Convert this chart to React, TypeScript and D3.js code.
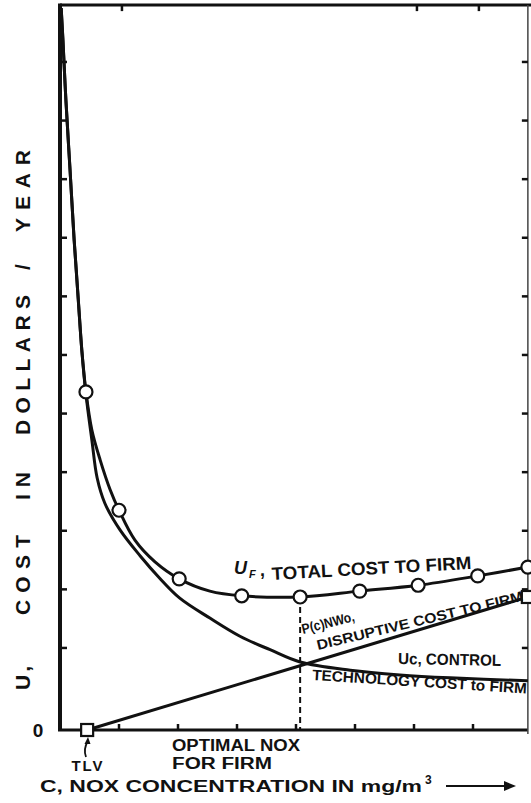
import React from 'react';
import * as d3 from 'd3';

const W = 531;
const H = 803;

// axis ticks (C and U in chart units)
const xTicks = [1, 2, 3, 4, 5, 6, 7];
const yTicks = [1.4, 2.4, 3.4, 4.4, 5.4, 6.4, 7.4, 8.4, 9.4, 10.4, 11.4];
const topTicks = [1.05, 6.05, 7.1];
const xMax = 7.93;
const yMax = 12.37;

// U_F, total cost to firm
const ufC = [0.02, 0.05, 0.10, 0.17, 0.24, 0.31, 0.37, 0.44, 0.54, 0.68, 0.85, 1.00, 1.27, 1.61, 2.02, 2.54, 3.08, 4.07, 5.08, 6.07, 7.08, 7.93];
const ufU = [12.32, 11.77, 10.75, 9.56, 8.36, 7.34, 6.48, 5.77, 5.12, 4.61, 4.10, 3.75, 3.24, 2.87, 2.58, 2.37, 2.29, 2.27, 2.37, 2.47, 2.63, 2.78];
const ufMarkC = [0.44, 1.00, 2.02, 3.08, 4.07, 5.08, 6.07, 7.08, 7.93];
const ufMarkU = [5.77, 3.75, 2.58, 2.29, 2.27, 2.37, 2.47, 2.63, 2.78];

// Uc, control technology cost to firm
const ucC = [0.02, 0.05, 0.10, 0.17, 0.24, 0.31, 0.37, 0.44, 0.54, 0.63, 0.76, 1.02, 1.36, 1.69, 2.03, 2.54, 3.05, 3.56, 4.07, 4.92, 5.76, 6.61, 7.93];
const ucU = [12.32, 11.77, 10.75, 9.56, 8.36, 7.34, 6.48, 5.73, 4.95, 4.30, 3.87, 3.41, 2.97, 2.59, 2.25, 1.91, 1.60, 1.37, 1.16, 1.02, 0.94, 0.89, 0.84];

// P(c)NWo, disruptive cost to firm
const pC = [0.46, 7.93];
const pU = [0, 2.27];

const optimalC = 4.07;

// y-axis title words
const yTitleWords = ['U,', 'COST', 'IN', 'DOLLARS', '/', 'YEAR'];

const FONT = "'Liberation Sans', Arial, sans-serif";

export default function App() {
  const x = d3.scaleLinear().domain([0, 8]).range([60, 532]);
  const y = d3.scaleLinear().domain([0, 12.4]).range([730, 3.36]);
  const curve = d3
    .line<[number, number]>()
    .x((d) => x(d[0]))
    .y((d) => y(d[1]))
    .curve(d3.curveCatmullRom.alpha(0.5));
  const straight = d3
    .line<[number, number]>()
    .x((d) => x(d[0]))
    .y((d) => y(d[1]));

  const uf = ufC.map((c, i) => [c, ufU[i]] as [number, number]);
  const uc = ucC.map((c, i) => [c, ucU[i]] as [number, number]);
  const pl = pC.map((c, i) => [c, pU[i]] as [number, number]);

  const x0 = x(0);
  const y0 = y(0);
  const xR = x(xMax);
  const yT = y(yMax);
  const ink = '#111';

  // word offsets along the rotated y title (layout)
  const wordPos = [0, 75, 190, 255, 420, 458];
  const wordLen = [24, 80, 28, 140, 11, 82];

  return (
    <svg
      width={W}
      height={H}
      style={{ position: 'absolute', left: 0, top: 0, background: '#fff' }}
      fontFamily={FONT}
      fontWeight="bold"
    >
      <rect x={0} y={0} width={W} height={H} fill="#fff" />
      {/* frame */}
      <line x1={x0} y1={yT} x2={W} y2={yT} stroke={ink} strokeWidth={3} />
      <line x1={x0} y1={yT - 1.5} x2={x0} y2={y0} stroke={ink} strokeWidth={4} />
      <line x1={x0 - 2} y1={y0} x2={xR} y2={y0} stroke={ink} strokeWidth={3} />
      <line x1={xR} y1={yT} x2={xR} y2={y0 + 4} stroke="#444" strokeWidth={1.5} />

      {/* ticks */}
      {xTicks.map((t) => (
        <line key={'bx' + t} x1={x(t)} y1={y0} x2={x(t)} y2={y0 - 6} stroke={ink} strokeWidth={2.5} />
      ))}
      {topTicks.map((t) => (
        <line key={'tx' + t} x1={x(t)} y1={yT} x2={x(t)} y2={yT + 6} stroke={ink} strokeWidth={2.5} />
      ))}
      {yTicks.map((t) => (
        <line key={'ly' + t} x1={x0} y1={y(t)} x2={x0 + 7} y2={y(t)} stroke={ink} strokeWidth={2.5} />
      ))}
      {yTicks.map((t) => (
        <line key={'ry' + t} x1={xR} y1={y(t)} x2={xR - 6} y2={y(t)} stroke={ink} strokeWidth={2.5} />
      ))}

      {/* curves */}
      <path d={curve(uc) || ''} fill="none" stroke={ink} strokeWidth={3} />
      <path d={curve(uf) || ''} fill="none" stroke={ink} strokeWidth={3} />
      <path d={straight(pl) || ''} fill="none" stroke={ink} strokeWidth={3} />

      {/* optimal dashed line */}
      <line
        x1={x(optimalC)}
        y1={y(d3.min(ufU) as number)}
        x2={x(optimalC)}
        y2={y0}
        stroke={ink}
        strokeWidth={2}
        strokeDasharray="6,4"
      />

      {/* markers */}
      {ufMarkC.map((c, i) => (
        <circle key={'m' + i} cx={x(c)} cy={y(ufMarkU[i])} r={6.5} fill="#fff" stroke={ink} strokeWidth={2.2} />
      ))}
      {pl.map((d, i) => (
        <rect key={'s' + i} x={x(d[0]) - 6} y={y(d[1]) - 6} width={12} height={12} fill="#fff" stroke={ink} strokeWidth={2.2} />
      ))}

      {/* y axis title */}
      <text transform="translate(30,690) rotate(-90)" fontSize={21} fill={ink}>
        {yTitleWords.map((w, i) => (
          <tspan key={w} x={wordPos[i]} textLength={wordLen[i]} lengthAdjust="spacing">
            {w}
          </tspan>
        ))}
      </text>

      <text x={38} y={737} fontSize={19} textAnchor="middle" fill={ink}>0</text>
      <text x={88} y={771} fontSize={15} textAnchor="middle" letterSpacing={2} fill={ink}>TLV</text>
      <path d="M86,757 Q83,749 88,741" fill="none" stroke={ink} strokeWidth={1.8} />
      <path d="M88,737 L84.5,744 L90.5,744 Z" fill={ink} />

      <text x={172} y={751} fontSize={16} textLength={128} lengthAdjust="spacingAndGlyphs" fill={ink}>OPTIMAL NOX</text>
      <text x={172} y={769} fontSize={16} textLength={100} lengthAdjust="spacingAndGlyphs" fill={ink}>FOR  FIRM</text>

      <text x={40} y={792} fontSize={16} textLength={382} lengthAdjust="spacingAndGlyphs" fill={ink}>
        C,  NOX  CONCENTRATION  IN  mg/m
      </text>
      <text x={425} y={784} fontSize={12} fill={ink}>3</text>
      <line x1={446} y1={786} x2={510} y2={786} stroke={ink} strokeWidth={2} />
      <path d="M516,786 L504,781 L504,791 Z" fill={ink} />

      {/* curve labels */}
      <text x={234} y={574} fontSize={18} fontStyle="italic" fill={ink}>U</text>
      <text x={249} y={578} fontSize={11} fontStyle="italic" fill={ink}>F</text>
      <text x={260} y={576} fontSize={18} fill={ink}>,</text>
      <text
        transform="translate(272,580) rotate(-3.2)"
        fontSize={18}
        textLength={200}
        lengthAdjust="spacingAndGlyphs"
        fill={ink}
      >
        TOTAL COST TO FIRM
      </text>

      <text
        transform="translate(303,634) rotate(-14)"
        fontSize={14}
        textLength={54}
        lengthAdjust="spacingAndGlyphs"
        fill={ink}
      >
        P(c)NWo,
      </text>
      <text
        transform="translate(318,650) rotate(-13.5)"
        fontSize={14}
        textLength={212}
        lengthAdjust="spacingAndGlyphs"
        fill={ink}
      >
        DISRUPTIVE COST TO FIRM
      </text>

      <text
        transform="translate(398,664) rotate(1)"
        fontSize={16}
        textLength={103}
        lengthAdjust="spacingAndGlyphs"
        fill={ink}
      >
        Uc, CONTROL
      </text>
      <text
        transform="translate(312,680) rotate(3.6)"
        fontSize={15}
        textLength={215}
        lengthAdjust="spacingAndGlyphs"
        fill={ink}
      >
        TECHNOLOGY COST to FIRM
      </text>
    </svg>
  );
}
